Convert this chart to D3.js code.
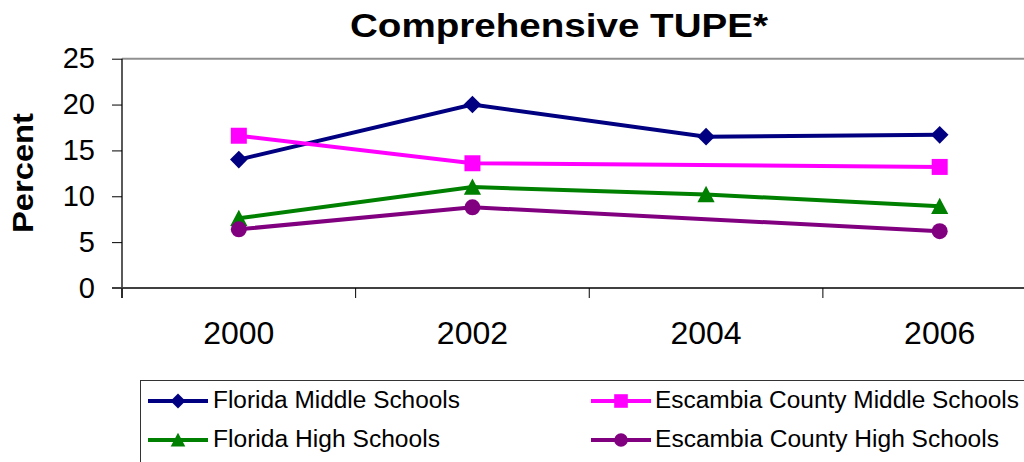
<!DOCTYPE html>
<html>
<head>
<meta charset="utf-8">
<script src="https://cdn.jsdelivr.net/npm/d3@7"></script>
<style>
  html, body { margin: 0; padding: 0; background: #fff; }
  svg { display: block; }
  text { font-family: "Liberation Sans", Arial, sans-serif; fill: #000; }
</style>
</head>
<body>
<svg id="chart" width="1024" height="462"></svg>
<script>
// ---- data ----
const years = ["2000", "2002", "2004", "2006"];
const yTicks = [0, 5, 10, 15, 20, 25];
const floridaMiddle   = [14.0, 20.0, 16.5, 16.7];
const escambiaMiddle  = [16.6, 13.6, null, 13.2];
const floridaHigh     = [7.6, 11.0, 10.2, 8.9];
const escambiaHigh    = [6.4, 8.8, null, 6.2];
const seriesNames = ["Florida Middle Schools", "Escambia County Middle Schools",
                     "Florida High Schools", "Escambia County High Schools"];
const seriesValues = [floridaMiddle, escambiaMiddle, floridaHigh, escambiaHigh];
const seriesColors = ["#000080", "#FF00FF", "#008000", "#800080"];
const seriesSymbols = ["diamond", "square", "triangle", "circle"];
const titleText = "Comprehensive TUPE*";
const yTitle = "Percent";

// ---- layout ----
const svg = d3.select("#chart");
const pLeft = 122, pTop = 58.7, pBottom = 288, pRight = 1056.5;

const x = d3.scaleBand().domain(years).range([pLeft, pRight]);
const y = d3.scaleLinear().domain([0, 25]).range([pBottom, pTop]);

// title
svg.append("text")
  .attr("x", 350).attr("y", 37)
  .attr("textLength", 418).attr("lengthAdjust", "spacingAndGlyphs")
  .style("font-size", "33px").style("font-weight", "bold")
  .text(titleText);

// y title
svg.append("text")
  .attr("transform", "translate(33,173) rotate(-90)")
  .attr("text-anchor", "middle")
  .attr("textLength", 120).attr("lengthAdjust", "spacingAndGlyphs")
  .style("font-size", "30px").style("font-weight", "bold")
  .text(yTitle);

// plot top border
svg.append("line").attr("x1", pLeft).attr("x2", 1024)
  .attr("y1", pTop).attr("y2", pTop)
  .attr("stroke", "#909090").attr("stroke-width", 2);

// y axis
const yAxis = d3.axisLeft(y).tickValues(yTicks).tickSize(10).tickPadding(17);
const gy = svg.append("g").attr("transform", `translate(${pLeft},0)`).call(yAxis);
gy.select(".domain").remove();
gy.selectAll(".tick line").attr("stroke", "#000");
gy.selectAll(".tick text").style("font-size", "29px").attr("font-family", null);
svg.append("line").attr("x1", pLeft).attr("x2", pLeft)
  .attr("y1", pTop).attr("y2", pBottom + 10)
  .attr("stroke", "#000").attr("stroke-width", 1.3);

// x axis
const xTickPos = years.map(d => x(d));
const xAxis = d3.axisBottom(x).tickSize(0).tickPadding(33);
const gx = svg.append("g").attr("transform", `translate(0,${pBottom})`).call(xAxis);
gx.select(".domain").remove();
gx.selectAll(".tick text").style("font-size", "32px").attr("font-family", null);
svg.append("line").attr("x1", pLeft - 10).attr("x2", 1024)
  .attr("y1", pBottom).attr("y2", pBottom)
  .attr("stroke", "#404040").attr("stroke-width", 2);
svg.selectAll(".xtick").data(xTickPos).enter().append("line")
  .attr("x1", d => d).attr("x2", d => d)
  .attr("y1", pBottom).attr("y2", pBottom + 10)
  .attr("stroke", "#000").attr("stroke-width", 1);

const cx = d => x(d) + x.bandwidth() / 2;

// symbol paths, r = half width
function symbolPath(kind, r) {
  if (kind === "diamond") return `M0,${-r}L${r},0L0,${r}L${-r},0Z`;
  if (kind === "square") return `M${-r},${-r}H${r}V${r}H${-r}Z`;
  if (kind === "triangle") return `M0,${-r}L${r},${r * 0.9}L${-r},${r * 0.9}Z`;
  return d3.symbol().type(d3.symbolCircle).size(Math.PI * r * r)();
}
const symR = { diamond: 8.8, square: 8, triangle: 8.6, circle: 8 };

// series
seriesValues.forEach((vals, i) => {
  const pts = years.map((yr, j) => ({ yr, v: vals[j] })).filter(p => p.v != null);
  const line = d3.line().x(p => cx(p.yr)).y(p => y(p.v));
  svg.append("path").datum(pts)
    .attr("d", line).attr("fill", "none")
    .attr("stroke", seriesColors[i]).attr("stroke-width", 4);
  svg.selectAll(".m" + i).data(pts).enter().append("path")
    .attr("transform", p => `translate(${cx(p.yr)},${y(p.v)})`)
    .attr("d", symbolPath(seriesSymbols[i], symR[seriesSymbols[i]]))
    .attr("fill", seriesColors[i]);
});

// legend
svg.append("rect").attr("x", 140.5).attr("y", 380.5)
  .attr("width", 900).attr("height", 100)
  .attr("fill", "none").attr("stroke", "#333").attr("stroke-width", 1);

const legPos = [
  { lx: 148, tx: 213, y: 401 },
  { lx: 591, tx: 655, y: 401 },
  { lx: 148, tx: 213, y: 440 },
  { lx: 591, tx: 655, y: 440 }
];
const legLen = [247, 364, 227, 344];
seriesNames.forEach((name, i) => {
  const p = legPos[i];
  svg.append("line").attr("x1", p.lx).attr("x2", p.lx + 60)
    .attr("y1", p.y).attr("y2", p.y)
    .attr("stroke", seriesColors[i]).attr("stroke-width", 4);
  svg.append("path")
    .attr("transform", `translate(${p.lx + 30},${p.y})`)
    .attr("d", symbolPath(seriesSymbols[i], symR[seriesSymbols[i]] * 0.85))
    .attr("fill", seriesColors[i]);
  svg.append("text").attr("x", p.tx).attr("y", p.y + 7)
    .attr("textLength", legLen[i]).attr("lengthAdjust", "spacingAndGlyphs")
    .style("font-size", "23px").text(name);
});
</script>
</body>
</html>
